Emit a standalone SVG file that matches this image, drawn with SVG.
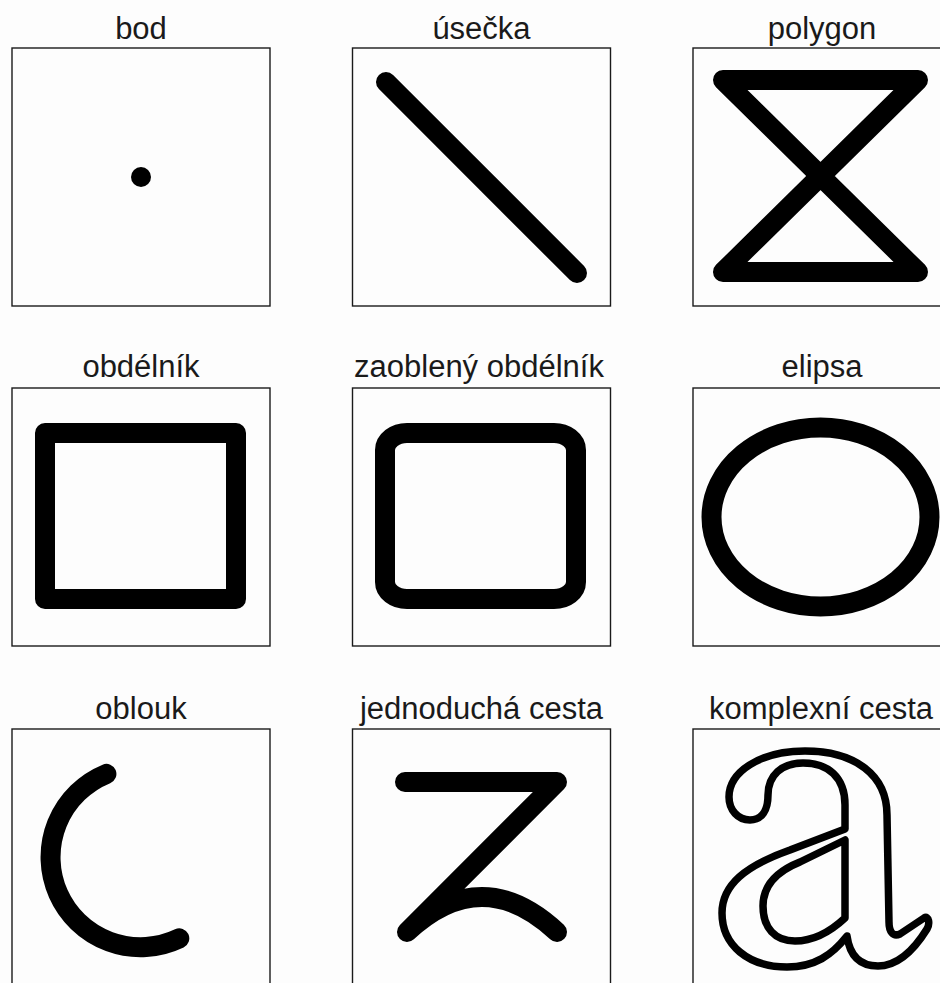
<svg xmlns="http://www.w3.org/2000/svg" width="940" height="983" viewBox="0 0 940 983">
<style>
.frame{fill:#fdfdfd;stroke:#1a1a1a;stroke-width:1.4}
.lbl{font-family:"Liberation Sans",Arial,sans-serif;font-size:31px;fill:#1a1a1a;text-anchor:middle}
.shp{fill:none;stroke:#000;stroke-width:20;stroke-linecap:round;stroke-linejoin:round}
.thin{fill:none;stroke:#000;stroke-width:7.5;stroke-linejoin:round}
</style>
<rect width="940" height="983" fill="#fdfdfd"/>
<g id="bod">
<text class="lbl" x="141" y="39">bod</text>
<rect class="frame" x="12" y="48" width="258" height="258"/>
<circle cx="141" cy="177" r="10" fill="#000"/>
</g>
<g id="usecka">
<text class="lbl" x="481.5" y="39">úsečka</text>
<rect class="frame" x="352.5" y="48" width="258" height="258"/>
<line class="shp" x1="386" y1="82" x2="577" y2="273"/>
</g>
<g id="polygon">
<text class="lbl" x="822" y="39">polygon</text>
<rect class="frame" x="693" y="48" width="258" height="258"/>
<polygon class="shp" points="723,80 918,80 723,272 918,272"/>
</g>
<g id="obdelnik">
<text class="lbl" x="141" y="377">obdélník</text>
<rect class="frame" x="12" y="388" width="258" height="258"/>
<rect class="shp" x="45" y="433" width="191" height="166"/>
</g>
<g id="zaobleny-obdelnik">
<text class="lbl" x="479" y="377">zaoblený obdélník</text>
<rect class="frame" x="352.5" y="388" width="258" height="258"/>
<rect class="shp" x="385" y="433" width="191" height="166" rx="22" ry="17"/>
</g>
<g id="elipsa">
<text class="lbl" x="822" y="377">elipsa</text>
<rect class="frame" x="693" y="388" width="258" height="258"/>
<ellipse class="shp" cx="820.5" cy="517" rx="109" ry="89.5"/>
</g>
<g id="oblouk">
<text class="lbl" x="141" y="719">oblouk</text>
<rect class="frame" x="12" y="729" width="258" height="258"/>
<path class="shp" d="M106.4,773.9 A90,90 0 1 0 179.3,938.4"/>
</g>
<g id="jednoducha-cesta">
<text class="lbl" x="481.5" y="719">jednoduchá cesta</text>
<rect class="frame" x="352.5" y="729" width="258" height="258"/>
<path class="shp" d="M405,782 L557,782 L407,932 Q482,862 557,932"/>
</g>
<g id="komplexni-cesta">
<text class="lbl" x="821" y="719">komplexní cesta</text>
<rect class="frame" x="693" y="729" width="258" height="258"/>
<path class="thin" d="M750,820 C738,820 729,810 729,797 C729,772 760,751 805,751 C855,751 887,775 887,815 L889,922 C889,932 893,937 900,934 L924,918 C929,915 930,924 927,929 C914,950 898,966 878,966 C862,966 850,958 847,936 C832,955 815,967 787,967 C748,967 722,945 722,913 C722,885 745,866 790,850 L845,829 L845,805 C845,777 828,763 803,763 C782,763 768,775 768,795 C768,810 762,820 750,820 Z M845,840 L845,918 C830,932 812,941 795,941 C775,941 763,928 763,906 C763,886 775,872 800,862 Z"/>
</g>
</svg>
